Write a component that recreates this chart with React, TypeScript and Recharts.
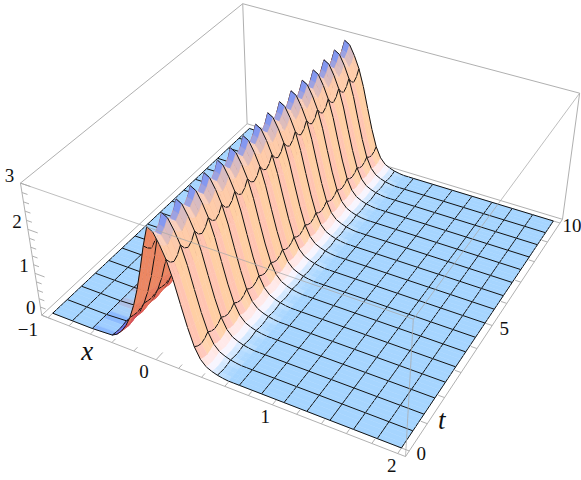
import React from "react";
import { ScatterChart, Scatter, XAxis, YAxis } from "recharts";

const WIDTH = 581;
const HEIGHT = 480;

// x samples: mesh lines away from the ridge, quarter-mesh steps across it
const xSamples = [
  -1, -0.8125, -0.625, -0.4375, -0.390625, -0.34375, -0.296875, -0.25, -0.203125, -0.15625,
  -0.109375, -0.0625, -0.015625, 0.03125, 0.078125, 0.125, 0.171875, 0.21875, 0.265625, 0.3125,
  0.359375, 0.40625, 0.453125, 0.5, 0.546875, 0.59375, 0.640625, 0.6875, 0.875, 1.0625, 1.25,
  1.4375, 1.625, 1.8125, 2,
];
// ridge height at each x sample, read on a t mesh line, beside it and half way between two
const ridgeOnMesh = [
  0, 0, 0, 0.03, 0.1, 0.22, 0.4, 0.64, 0.97, 1.38, 1.88, 2.42, 2.87, 2.8, 2.58, 2.3, 1.9, 1.4,
  0.92, 0.52, 0.27, 0.14, 0.08, 0.04, 0.015, 0, 0, 0, 0, 0, 0, 0, 0, 0, 0,
];
const ridgeBeside = [
  0, 0, 0, 0.01, 0.08, 0.2, 0.38, 0.61, 0.93, 1.33, 1.8, 2.3, 2.7, 2.66, 2.46, 2.16, 1.8, 1.34,
  0.86, 0.45, 0.22, 0.11, 0.05, 0.02, 0.01, 0, 0, 0, 0, 0, 0, 0, 0, 0, 0,
];
const ridgeBetween = [
  0, 0, 0, 0, 0.07, 0.18, 0.36, 0.59, 0.9, 1.29, 1.75, 2.22, 2.6, 2.58, 2.4, 2.1, 1.76, 1.3,
  0.83, 0.42, 0.2, 0.09, 0.04, 0.01, 0, 0, 0, 0, 0, 0, 0, 0, 0, 0, 0,
];
const rowPattern = [ridgeOnMesh, ridgeBeside, ridgeBetween, ridgeBeside];
const tMeshCells = 16;

const xRange = [-1.06, 2.06];
const tRange = [-0.2, 10.2];
const zRange = [0, 3];

const xTicks = [-1, 0, 1, 2];
const xMinorTicks = [-0.8, -0.6, -0.4, -0.2, 0.2, 0.4, 0.6, 0.8, 1.2, 1.4, 1.6, 1.8];
const tTicks = [0, 5, 10];
const tMinorTicks = [1, 2, 3, 4, 6, 7, 8, 9];
const zTicks = [0, 1, 2, 3];
const zMinorTicks = [0.2, 0.4, 0.6, 0.8, 1.2, 1.4, 1.6, 1.8, 2.2, 2.4, 2.6, 2.8];
const xLabelShift = [-20, -12, -7, -6];

// camera calibration: unit box corner -> where it falls in the picture
const calibration = [
  [0, 0, 0, 42, 315],
  [1, 0, 0, 406, 457],
  [1, 1, 0, 562, 220],
  [0, 1, 0, 247, 123],
  [0, 0, 1, 20, 184],
  [1, 0, 1, 413, 318],
  [1, 1, 1, 580, 93],
  [0, 1, 1, 243, 4],
];

function fitCamera() {
  const rows: number[][] = [];
  for (const [u, v, w, sx, sy] of calibration) {
    rows.push([u, v, w, 1, 0, 0, 0, 0, -sx * u, -sx * v, -sx * w, sx]);
    rows.push([0, 0, 0, 0, u, v, w, 1, -sy * u, -sy * v, -sy * w, sy]);
  }
  const n = 11;
  const m = Array.from({ length: n }, (_, a) =>
    Array.from({ length: n + 1 }, (_, b) => rows.reduce((s, r) => s + r[a] * r[b], 0))
  );
  for (let c = 0; c < n; c++) {
    let p = c;
    for (let r = c + 1; r < n; r++) if (Math.abs(m[r][c]) > Math.abs(m[p][c])) p = r;
    [m[c], m[p]] = [m[p], m[c]];
    for (let r = 0; r < n; r++) {
      if (r === c) continue;
      const f = m[r][c] / m[c][c];
      for (let k = c; k <= n; k++) m[r][k] -= f * m[c][k];
    }
  }
  return m.map((r, i) => r[n] / r[i]);
}
const cam = fitCamera();

function project(x: number, t: number, z: number): [number, number] {
  const u = (x - xRange[0]) / (xRange[1] - xRange[0]);
  const v = (t - tRange[0]) / (tRange[1] - tRange[0]);
  const w = (z - zRange[0]) / (zRange[1] - zRange[0]);
  const d = cam[8] * u + cam[9] * v + cam[10] * w + 1;
  return [
    (cam[0] * u + cam[1] * v + cam[2] * w + cam[3]) / d,
    (cam[4] * u + cam[5] * v + cam[6] * w + cam[7]) / d,
  ];
}

type RGB = number[];
function ramp(stops: [number, RGB][], s: number) {
  if (s <= stops[0][0]) return stops[0][1];
  for (let i = 1; i < stops.length; i++) {
    if (s <= stops[i][0]) {
      const f = (s - stops[i - 1][0]) / (stops[i][0] - stops[i - 1][0]);
      return stops[i - 1][1].map((c, k) => c + (stops[i][1][k] - c) * f);
    }
  }
  return stops[stops.length - 1][1];
}
const mix = (a: RGB, b: RGB, f: number) => a.map((v, k) => v + (b[k] - v) * Math.max(0, Math.min(1, f)));

const peach: RGB = [255, 204, 170];
const nearFlank: [number, RGB][] = [
  [0, [166, 213, 255]],
  [0.5, [200, 228, 255]],
  [1.1, [246, 246, 255]],
  [2, [255, 238, 243]],
  [3.2, [255, 222, 208]],
  [5.5, peach],
];
const farFlank: [number, RGB][] = [
  [0, [166, 213, 255]],
  [0.6, [205, 95, 115]],
  [2.5, [215, 85, 90]],
  [4, [228, 105, 88]],
  [8, [236, 135, 98]],
];
// the very corner of the far flank at t = 0 is a hard blue
const farCorner: [number, RGB][] = [
  [0, [166, 213, 255]],
  [0.4, [70, 110, 250]],
  [1.5, [110, 120, 240]],
  [2.6, [215, 85, 90]],
];

function quadColor(dzdx: number, dzdt: number, z: number, t: number) {
  const s = -dzdx;
  let c: RGB;
  if (s >= 0) c = ramp(nearFlank, s);
  else c = ramp(t < 0.65 && z < 0.5 ? farCorner : farFlank, -s);
  // crest: the side turned away along t goes blue, the other lavender
  if (z > 2.25 && s > -3 && s < 7) {
    const top: RGB = dzdt > 0 ? [128, 150, 242] : [236, 220, 236];
    const amount = Math.min((z - 2.25) / 0.5, 1) * (s > 1 ? 1 - (s - 1) / 6 : 1);
    c = mix(peach, top, amount);
  } else if (s > 4) {
    c = [c[0], c[1] + (dzdt > 0 ? 3 : -8), c[2] + (dzdt > 0 ? -6 : 8)];
  }
  return `rgb(${c.map((v) => Math.round(v)).join(",")})`;
}

const isMeshX = (x: number) => Number.isInteger((x + 1) / 0.1875);

const quads: any[] = [];
const lastRow = tMeshCells * rowPattern.length;
for (let j = lastRow - 1; j >= 0; j--) {
  for (let i = 0; i < xSamples.length - 1; i++) {
    const t0 = (j / lastRow) * 10;
    const t1 = ((j + 1) / lastRow) * 10;
    const near = rowPattern[j % 4];
    const far = rowPattern[(j + 1) % 4];
    const x0 = xSamples[i];
    const x1 = xSamples[i + 1];
    const a = project(x0, t0, near[i]);
    const b = project(x1, t0, near[i + 1]);
    const c = project(x1, t1, far[i + 1]);
    const d = project(x0, t1, far[i]);
    const mean = (near[i] + near[i + 1] + far[i] + far[i + 1]) / 4;
    const [sx, sy] = project((x0 + x1) / 2, (t0 + t1) / 2, mean);
    const rel = (p: [number, number]) => [p[0] - sx, p[1] - sy];
    const edges: number[][][] = [];
    if ((j + 1) % 4 === 0) edges.push([rel(d), rel(c)]);
    if (j === 0) edges.push([rel(a), rel(b)]);
    if (isMeshX(x0)) edges.push([rel(a), rel(d)]);
    if (i === xSamples.length - 2) edges.push([rel(b), rel(c)]);
    const dzdx = ((near[i + 1] - near[i] + far[i + 1] - far[i]) / 2) / (x1 - x0);
    const dzdt = ((far[i] - near[i] + far[i + 1] - near[i + 1]) / 2) / (t1 - t0);
    quads.push({ sx, sy, corners: [a, b, c, d].map(rel), edges, fill: quadColor(dzdx, dzdt, mean, t0) });
  }
}

const renderQuad = (props: any) => {
  const { cx, cy, payload } = props;
  const points = payload.corners.map((p: number[]) => `${cx + p[0]},${cy + p[1]}`).join(" ");
  const path = payload.edges
    .map((e: number[][]) => `M${cx + e[0][0]},${cy + e[0][1]}L${cx + e[1][0]},${cy + e[1][1]}`)
    .join("");
  return (
    <g>
      <polygon points={points} fill={payload.fill} stroke={payload.fill} strokeWidth={0.5} />
      {path && <path d={path} fill="none" stroke="#111" strokeWidth={1} />}
    </g>
  );
};
const noDot = () => <g />;

const [x0, x1] = xRange;
const [t0, t1] = tRange;
const [z0, z1] = zRange;
const seg = (a: number[], b: number[]) =>
  [a, b].map((p) => {
    const [sx, sy] = project(p[0], p[1], p[2]);
    return { sx, sy };
  });

const rearEdges = [
  seg([x0, t1, z0], [x0, t1, z1]),
  seg([x0, t0, z1], [x0, t1, z1]),
  seg([x0, t1, z1], [x1, t1, z1]),
  seg([x0, t0, z0], [x0, t1, z0]),
  seg([x0, t1, z0], [x1, t1, z0]),
];
const frontEdges = [
  seg([x0, t0, z0], [x1, t0, z0]),
  seg([x1, t0, z0], [x1, t1, z0]),
  seg([x0, t0, z0], [x0, t0, z1]),
  seg([x1, t1, z0], [x1, t1, z1]),
];
const glassEdges = [
  seg([x0, t0, z1], [x1, t0, z1]),
  seg([x1, t0, z1], [x1, t1, z1]),
  seg([x1, t0, z0], [x1, t0, z1]),
];
const tickMarks = [
  ...xTicks.map((x) => seg([x, t0, z0], [x, t0 + 0.3, z0])),
  ...xMinorTicks.map((x) => seg([x, t0, z0], [x, t0 + 0.16, z0])),
  ...tTicks.map((t) => seg([x1, t, z0], [x1 - 0.09, t, z0])),
  ...tMinorTicks.map((t) => seg([x1, t, z0], [x1 - 0.05, t, z0])),
  ...zTicks.map((z) => seg([x0, t0, z], [x0 + 0.09, t0, z])),
  ...zMinorTicks.map((z) => seg([x0, t0, z], [x0 + 0.05, t0, z])),
];

const at = (x: number, t: number, z: number, dx: number, dy: number, text: string, italic = false) => {
  const [sx, sy] = project(x, t, z);
  return { sx, sy, dx, dy, text, italic };
};
const labels = [
  ...xTicks.map((x, i) => at(x, t0, z0, xLabelShift[i], 12, x < 0 ? `\u2212${-x}` : `${x}`)),
  ...tTicks.map((t) => at(x1, t, z0, 12, 3, `${t}`)),
  ...zTicks.map((z) => at(x0, t0, z, -11, -7, `${z}`)),
  at(-0.6, t0, z0, -3, 19, "x", true),
  at(x1, 1.2, z0, 11, 4, "t", true),
];

const renderLabel = (props: any) => {
  const { cx, cy, payload } = props;
  return (
    <text
      x={cx + payload.dx}
      y={cy + payload.dy + (payload.italic ? 7 : 6)}
      textAnchor="middle"
      fontFamily="Liberation Serif"
      fontStyle={payload.italic ? "italic" : "normal"}
      fontSize={payload.italic ? 27 : 19}
      fill="#111"
    >
      {payload.text}
    </text>
  );
};

const edgeLine = { stroke: "#b0b0b0", strokeWidth: 1 };
const glassLine = { stroke: "#a8a8a8", strokeWidth: 1, strokeOpacity: 0.75 };

export default function App() {
  return (
    <div style={{ position: "absolute", left: 0, top: 0, width: WIDTH, height: HEIGHT, background: "#fff" }}>
      <ScatterChart width={WIDTH} height={HEIGHT} margin={{ top: 0, right: 0, bottom: 0, left: 0 }}>
        <XAxis type="number" dataKey="sx" domain={[0, WIDTH]} hide allowDataOverflow />
        <YAxis type="number" dataKey="sy" domain={[0, HEIGHT]} reversed hide allowDataOverflow />
        {rearEdges.map((e, i) => (
          <Scatter key={`rear-${i}`} data={e} line={edgeLine} shape={noDot} isAnimationActive={false} />
        ))}
        {frontEdges.map((e, i) => (
          <Scatter key={`front-${i}`} data={e} line={edgeLine} shape={noDot} isAnimationActive={false} />
        ))}
        {tickMarks.map((e, i) => (
          <Scatter key={`tick-${i}`} data={e} line={edgeLine} shape={noDot} isAnimationActive={false} />
        ))}
        <Scatter data={quads} shape={renderQuad} isAnimationActive={false} />
        {glassEdges.map((e, i) => (
          <Scatter key={`glass-${i}`} data={e} line={glassLine} shape={noDot} isAnimationActive={false} />
        ))}
        <Scatter data={labels} shape={renderLabel} isAnimationActive={false} />
      </ScatterChart>
    </div>
  );
}
